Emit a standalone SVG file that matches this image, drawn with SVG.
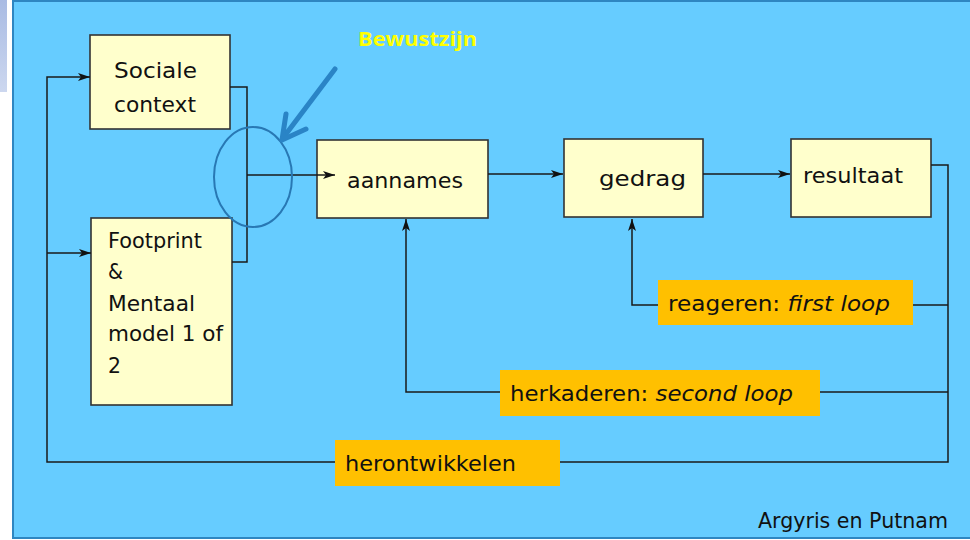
<svg xmlns="http://www.w3.org/2000/svg" width="970" height="540" viewBox="0 0 970 540">
<defs>
<linearGradient id="lav" x1="0" y1="0" x2="0" y2="1"><stop offset="0" stop-color="#a9bbe3"/><stop offset="1" stop-color="#ccd7ef"/></linearGradient>
<marker id="ah" viewBox="0 0 12 8" refX="12" refY="4" markerWidth="12" markerHeight="8" markerUnits="userSpaceOnUse" orient="auto"><path d="M0,0 L12,4 L0,8 L3,4 Z" fill="#111"/></marker>
<style>
.box{fill:#ffffcc;stroke:#333;stroke-width:1.6}
.lbl{fill:#ffc000}
.c{fill:none;stroke:#1a1a1a;stroke-width:1.5}
.t{font-family:"DejaVu Sans","Liberation Sans",sans-serif;fill:#111;font-size:21px}
</style>
</defs>
<rect x="0" y="0" width="970" height="540" fill="#fff"/>
<rect x="0" y="0" width="7" height="92" fill="url(#lav)"/>
<rect x="13" y="1" width="960" height="537" fill="#66ccff" stroke="#2e86c1" stroke-width="2"/>

<g id="sociale"><rect class="box" x="90" y="35" width="140" height="94"/><text class="t" x="114" y="78" font-size="22" textLength="83" lengthAdjust="spacingAndGlyphs">Sociale</text><text class="t" x="114" y="112" font-size="22" textLength="82" lengthAdjust="spacingAndGlyphs">context</text></g>
<g id="footprint"><rect class="box" x="91" y="218" width="141" height="187"/>
<text class="t" x="108" y="248" textLength="94" lengthAdjust="spacingAndGlyphs">Footprint</text><text class="t" x="108" y="279" textLength="15" lengthAdjust="spacingAndGlyphs">&amp;</text><text class="t" x="108" y="311" textLength="87" lengthAdjust="spacingAndGlyphs">Mentaal</text><text class="t" x="108" y="341" textLength="115" lengthAdjust="spacingAndGlyphs">model 1 of</text><text class="t" x="108" y="373" textLength="13" lengthAdjust="spacingAndGlyphs">2</text></g>
<g id="aannames"><rect class="box" x="317" y="140" width="171" height="78"/><text class="t" x="347" y="188" font-size="22" textLength="116" lengthAdjust="spacingAndGlyphs">aannames</text></g>
<g id="gedrag"><rect class="box" x="564" y="139" width="139" height="78"/><text class="t" x="599" y="186" font-size="22" textLength="87" lengthAdjust="spacingAndGlyphs">gedrag</text></g>
<g id="resultaat"><rect class="box" x="791" y="139" width="140" height="78"/><text class="t" x="803" y="183" font-size="22" textLength="100" lengthAdjust="spacingAndGlyphs">resultaat</text></g>

<g id="connectors">
<path class="c" d="M230,87 H247 V262 H232"/>
<path class="c" d="M247,175 H335" marker-end="url(#ah)"/>
<path class="c" d="M488,174 H563" marker-end="url(#ah)"/>
<path class="c" d="M703,174 H790" marker-end="url(#ah)"/>
<path class="c" d="M931,165 H948 V462 H560"/>
<path class="c" d="M948,305 H913"/>
<path class="c" d="M658,305 H632 V219" marker-end="url(#ah)"/>
<path class="c" d="M948,392 H820"/>
<path class="c" d="M500,392 H406 V219" marker-end="url(#ah)"/>
<path class="c" d="M335,462 H47 V77 H90" marker-end="url(#ah)"/>
<path class="c" d="M47,253 H91" marker-end="url(#ah)"/>
</g>

<g id="bewustzijn">
<ellipse cx="253" cy="177" rx="39" ry="50" fill="none" stroke="#2878b4" stroke-width="2"/>
<path d="M335,69 L283,138" fill="none" stroke="#2a84c6" stroke-width="5" stroke-linecap="round"/>
<path d="M286,114 L282,140 L306,129" fill="none" stroke="#2a84c6" stroke-width="5" stroke-linecap="round" stroke-linejoin="round"/>
<text x="358" y="46" font-family="'Open Sans','Liberation Sans',sans-serif" font-weight="bold" font-size="20" fill="#ffff00" textLength="119" lengthAdjust="spacingAndGlyphs">Bewustzijn</text>
</g>

<g id="reageren"><rect class="lbl" x="658" y="280" width="255" height="45"/><text class="t" x="668" y="311" font-size="22" textLength="222" lengthAdjust="spacingAndGlyphs">reageren: <tspan font-style="italic">first loop</tspan></text></g>
<g id="herkaderen"><rect class="lbl" x="500" y="370" width="320" height="46"/><text class="t" x="510" y="401" font-size="22" textLength="283" lengthAdjust="spacingAndGlyphs">herkaderen: <tspan font-style="italic">second loop</tspan></text></g>
<g id="herontwikkelen"><rect class="lbl" x="335" y="440" width="225" height="46"/><text class="t" x="345" y="471" font-size="22" textLength="171" lengthAdjust="spacingAndGlyphs">herontwikkelen</text></g>

<text class="t" x="758" y="528" font-size="20" textLength="190" lengthAdjust="spacingAndGlyphs">Argyris en Putnam</text>
</svg>
